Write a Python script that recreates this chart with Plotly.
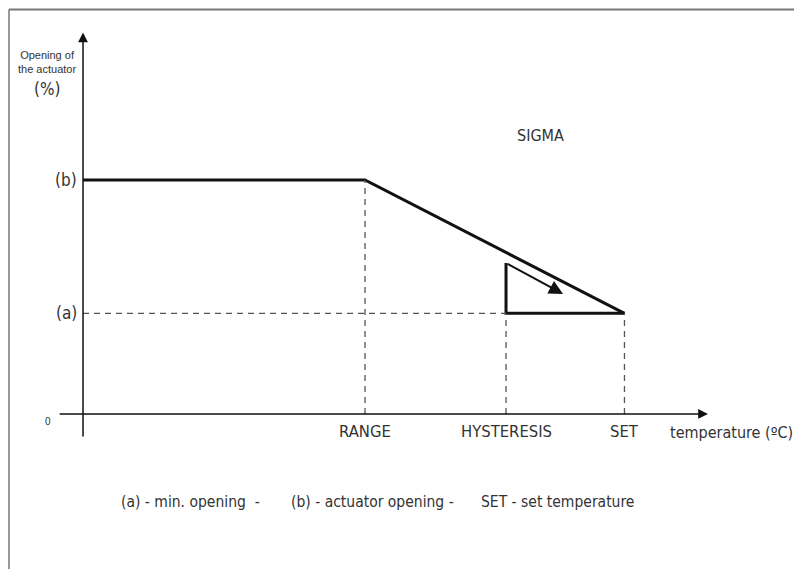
import plotly.graph_objects as go

# ---------------- data (schematic values) ----------------
temp_labels = ["RANGE", "HYSTERESIS", "SET"]
temp_values = [50, 75, 96]          # positions on the temperature axis
opening_labels = ["(a)", "(b)"]
opening_values = [43, 100]          # (a) min. opening, (b) actuator opening  [%]
hyst_top = 64.5                     # top of the hysteresis triangle [%]
arrow_tip = [85.1, 51.3]            # end of the arrow inside the triangle
legend_parts = ["(a) - min. opening\u00a0\u00a0-", "(b) - actuator opening -", "SET - set temperature"]

a_val, b_val = opening_values
rng, hyst, setp = temp_values

NARROW = "Liberation Sans Narrow, DejaVu Sans Condensed, Roboto Condensed, Liberation Sans, sans-serif"
REG = "Liberation Sans, Noto Sans, sans-serif"
TXT = "#333333"
DASH = "#555555"

fig = go.Figure()

# main characteristic: (b) until RANGE, then falling to (a) at SET
fig.add_trace(go.Scatter(x=[0, rng, setp], y=[b_val, b_val, a_val], mode="lines",
                         line=dict(color="#111111", width=3), hoverinfo="skip"))
# hysteresis triangle
fig.add_trace(go.Scatter(x=[hyst, hyst, setp], y=[hyst_top, a_val, a_val], mode="lines",
                         line=dict(color="#111111", width=3), hoverinfo="skip"))
# dashed guide lines
fig.add_trace(go.Scatter(x=[0, hyst], y=[a_val, a_val], mode="lines",
                         line=dict(color=DASH, width=1.3, dash="6px,5px"), hoverinfo="skip"))
for xv, ytop in [(rng, b_val), (hyst, a_val), (setp, a_val)]:
    fig.add_trace(go.Scatter(x=[xv, xv], y=[0, ytop], mode="lines",
                             line=dict(color=DASH, width=1.3, dash="6px,5px"), hoverinfo="skip"))

ann = []
# axes with arrows
ann.append(dict(x=0, y=163, ax=0, ay=-10.3, xref="x", yref="y", axref="x", ayref="y",
                showarrow=True, arrowhead=2, arrowsize=1.3, arrowwidth=1.5, arrowcolor="#111111",
                text="", standoff=0, startstandoff=0))
ann.append(dict(x=110.8, y=0, ax=-4.4, ay=0, xref="x", yref="y", axref="x", ayref="y",
                showarrow=True, arrowhead=2, arrowsize=1.3, arrowwidth=1.5, arrowcolor="#111111",
                text="", standoff=0, startstandoff=0))
# arrow in the triangle
ann.append(dict(x=arrow_tip[0], y=arrow_tip[1], ax=hyst, ay=hyst_top, xref="x", yref="y",
                axref="x", ayref="y", showarrow=True, arrowhead=2, arrowsize=1.4, arrowwidth=2,
                arrowcolor="#111111", text="", standoff=0))

# y labels
for lab, v in zip(opening_labels, opening_values):
    ann.append(dict(x=0, y=v, xref="x", yref="y", text=lab, showarrow=False, xanchor="right",
                    xshift=-4, font=dict(family=NARROW, size=17, color=TXT)))
ann.append(dict(x=0, y=0, xref="x", yref="y", text="0", showarrow=False, xshift=-35, yshift=-8,
                font=dict(family=REG, size=10, color=TXT)))
# x labels
for lab, v in zip(temp_labels, temp_values):
    ann.append(dict(x=v, y=0, xref="x", yref="y", text=lab, showarrow=False, yshift=-18,
                    font=dict(family=NARROW, size=16.5, color=TXT)))
ann.append(dict(x=103.7, y=0, xref="x", yref="y", text="temperature (ºC)", showarrow=False,
                xanchor="left", yshift=-19, font=dict(family=NARROW, size=16, color=TXT)))
# y title
ann.append(dict(x=-6.3, y=150.5, xref="x", yref="y", text="Opening of<br>the actuator", showarrow=False,
                font=dict(family=REG, size=11, color=TXT)))
ann.append(dict(x=-6.3, y=139, xref="x", yref="y", text="(%)", showarrow=False,
                font=dict(family=NARROW, size=17, color=TXT)))
# title
ann.append(dict(x=81.2, y=119.2, xref="x", yref="y", text="SIGMA", showarrow=False,
                font=dict(family=NARROW, size=16, color=TXT)))
# legend line
for txt, px in zip(legend_parts, [119, 289, 479]):
    ann.append(dict(x=px / 794, y=1 - 502 / 569, xref="paper", yref="paper", text=txt,
                    showarrow=False, xanchor="left", yanchor="middle",
                    font=dict(family=NARROW, size=15.5, color=TXT)))

shapes = [
    dict(type="line", xref="paper", yref="paper", x0=9 / 794, x1=1, y0=1 - 9.5 / 569, y1=1 - 9.5 / 569,
         line=dict(color="#777777", width=2)),
    dict(type="line", xref="paper", yref="paper", x0=9 / 794, x1=9 / 794, y0=0, y1=1 - 9.5 / 569,
         line=dict(color="#777777", width=1.5)),
]

fig.update_layout(
    width=794, height=569, autosize=False,
    margin=dict(l=0, r=0, t=0, b=0),
    paper_bgcolor="white", plot_bgcolor="white",
    showlegend=False,
    xaxis=dict(range=[-14.72, 126.06], visible=False, fixedrange=True),
    yaxis=dict(range=[-66.24, 176.9], visible=False, fixedrange=True),
    annotations=ann, shapes=shapes,
)

fig.write_html("out.html", config={"displayModeBar": False},
               post_script="document.body.style.margin='0';")
